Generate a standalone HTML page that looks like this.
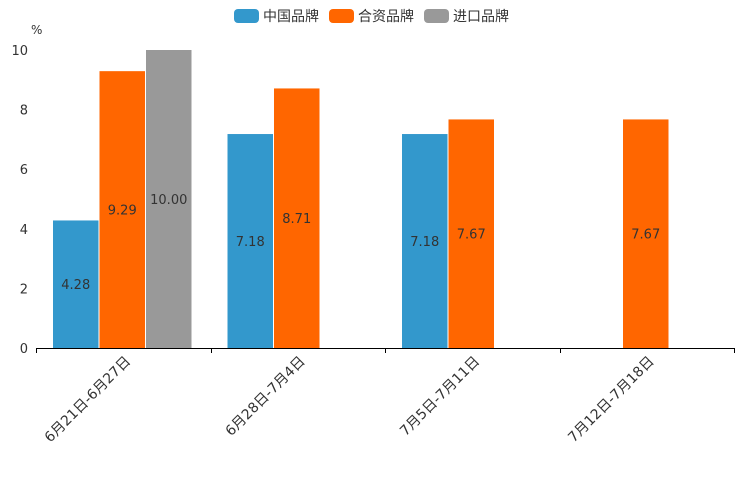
<!DOCTYPE html>
<html><head><meta charset="utf-8"><style>
body{margin:0;background:#fff;}
svg{display:block;font-family:"DejaVu Sans","Noto Sans CJK SC",sans-serif;}
</style></head><body>
<svg id="chart" width="744" height="496"></svg>
<script>
const categories = ["6月21日-6月27日","6月28日-7月4日","7月5日-7月11日","7月12日-7月18日"];
const seriesNames = ["中国品牌","合资品牌","进口品牌"];
const domestic = [4.28, 7.18, 7.18, null];
const joint = [9.29, 8.71, 7.67, 7.67];
const imported = [10.00, null, null, null];
const yTicks = [0,2,4,6,8,10];
const colors = ["#3398cc","#ff6600","#999999"];
const series = [domestic, joint, imported];

const NS="http://www.w3.org/2000/svg";
const svg=document.getElementById('chart');
const x0=36,x1=734,yBase=348,yTop=50,yMax=10;
const y=v=>yBase-(v/yMax)*(yBase-yTop);
const catW=(x1-x0)/categories.length;
const barW=46.5, pad=17;
function mk(t,a,txt){const e=document.createElementNS(NS,t);for(const k in a)e.setAttribute(k,a[k]);if(txt!=null)e.textContent=txt;svg.appendChild(e);return e;}

let lx=234;
seriesNames.forEach((n,i)=>{
  const r=mk('rect',{x:lx,y:9,width:25,height:14,rx:4,fill:colors[i]});
  
  
  const t=mk('text',{x:lx+29,y:21,'font-size':14,fill:'#333'},n);
  
  
  lx+=95;
});
const unit=mk('text',{x:31,y:34,'font-size':12,fill:'#333'},'%');



yTicks.forEach(v=>{
  const t=mk('text',{x:28,y:y(v)+5,'font-size':13,fill:'#333','text-anchor':'end'},String(v));
  
  
});

categories.forEach((c,ci)=>{
  const start=x0+ci*catW+pad;
  series.forEach((s,si)=>{
    const v=s[ci]; if(v==null) return;
    const bx=start+si*barW;
    const r=mk('rect',{x:bx,y:y(v),width:barW-1,height:yBase-y(v),fill:colors[si]});
    
    
    const t=mk('text',{x:bx+barW/2-0.5,y:(y(v)+yBase)/2+5,'font-size':13,fill:'#333','text-anchor':'middle'},v.toFixed(2));
    
    
  });
  const cx=x0+ci*catW+catW/2;
  const t=mk('text',{x:cx+8,y:362,'font-size':14,fill:'#333','text-anchor':'end',transform:`rotate(-45 ${cx+8} 362)`},c);
  
  
});

const ax=mk('line',{x1:x0,y1:yBase+0.5,x2:x1,y2:yBase+0.5,stroke:'#000','stroke-width':1});


for(let i=0;i<=categories.length;i++){
  const tx=Math.round(x0+i*catW)+0.5;
  const tk=mk('line',{x1:tx,y1:yBase,x2:tx,y2:yBase+5,stroke:'#000'});
  
  
}
</script>
</body></html>
